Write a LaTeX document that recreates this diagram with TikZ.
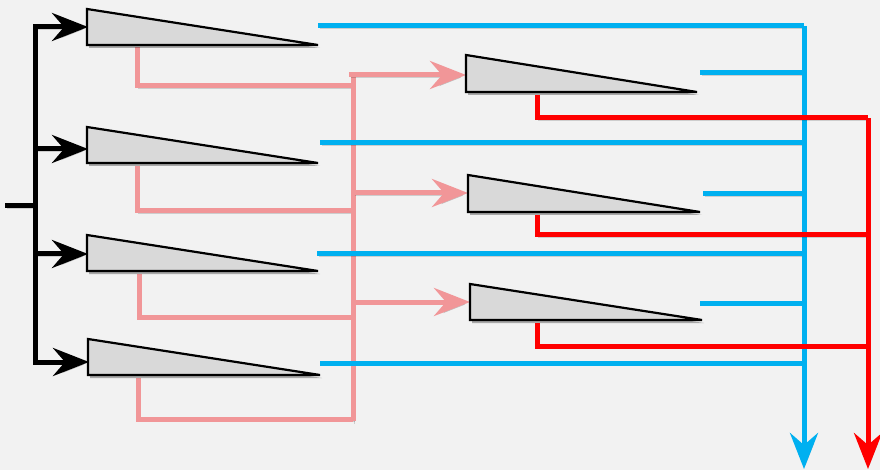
\documentclass[tikz,border=0pt]{standalone}
\usetikzlibrary{arrows.meta}
\definecolor{bg}{RGB}{242,242,242}
\definecolor{wfill}{RGB}{217,217,217}
\definecolor{cblue}{RGB}{0,176,240}
\definecolor{cred}{RGB}{255,0,0}
\definecolor{cpink}{RGB}{241,150,152}
\tikzset{
  shad/.style={preaction={draw=black,opacity=0.15,transform canvas={shift={(1.5pt,-2.5pt)}}}},
  wedge/.style={draw=black,line width=2.2pt,fill=wfill,line join=miter,
     preaction={fill=black,opacity=0.3,transform canvas={shift={(2pt,-3pt)}}}},
  blk/.style={draw=black,line width=5pt,line join=miter,shad},
  tip/.style={-{Stealth[length=36pt,width=28pt,inset=12pt]}},
  pinkline/.style={draw=cpink,line width=5pt,line join=miter,shad},
  blueline/.style={draw=cblue,line width=5pt,shad},
  redline/.style={draw=cred,line width=5pt,line join=miter,shad},
}
\begin{document}
\begin{tikzpicture}[x=1pt,y=-1pt]
\fill[bg] (0,0) rectangle (880,470);
\useasboundingbox (0,0) rectangle (880,470);
% pink
\foreach \n/\px/\py/\hy in {L1/137/47/86, L2/137/166/211, L3/139/274/317, L4/138/378/419}{
  \draw[pinkline] (\px,\py) coordinate (\n-d) -- (\px,\hy) coordinate (\n-c) -- (353,\hy) coordinate (\n-j);
}
\coordinate (ptop) at (353,73);
\coordinate (pbot) at (353,421);
\draw[pinkline] (ptop) -- (pbot);
\coordinate (p1) at (349,75);  \coordinate (R1-in) at (466,75);
\coordinate (p2) at (353,193); \coordinate (R2-in) at (468,193);
\coordinate (p3) at (353,302); \coordinate (R3-in) at (470,302);
\draw[pinkline,tip] (p1) -- (R1-in);
\draw[pinkline,tip] (p2) -- (R2-in);
\draw[pinkline,tip] (p3) -- (R3-in);
% wedges
\foreach \n/\x/\t/\b/\e in {L1/87/9/45/318, L2/87/127/163/318, L3/87/235/271/318, L4/88/339/375/320, R1/466/55/92/697, R2/468/175/212/700, R3/470/284/320/702}{
  \draw[wedge] (\x,\t) coordinate (\n-nw) -- (\e,\b) coordinate (\n-tip) -- (\x,\b) coordinate (\n-sw) -- cycle;
}
% connection points
\coordinate (in) at (5,206);
\coordinate (bj) at (35,206);
\coordinate (b1) at (35,27);  \coordinate (L1-in) at (88,27);
\coordinate (b2) at (35,149); \coordinate (L2-in) at (88,149);
\coordinate (b3) at (35,254); \coordinate (L3-in) at (88,254);
\coordinate (b4) at (35,362); \coordinate (L4-in) at (89,362);
% black input bus
\draw[blk] (in) -- (bj);
\draw[blk,{Stealth[length=36pt,width=28pt,inset=12pt]}-{Stealth[length=36pt,width=28pt,inset=12pt]}] (L1-in) -- (b1) -- (b4) -- (L4-in);
\draw[blk,tip] (b2) -- (L2-in);
\draw[blk,tip] (b3) -- (L3-in);
% blue
\coordinate (btop) at (804,26);
\coordinate (bout) at (804,469);
\draw[blueline] (L1-tip |- btop) -- (btop);
\draw[blueline] (320,143) coordinate (L2-o) -- (804,143);
\draw[blueline] (317,254) coordinate (L3-o) -- (804,254);
\draw[blueline] (320,363) coordinate (L4-o) -- (804,363);
\draw[blueline] (700,73) coordinate (R1-o) -- (804,73);
\draw[blueline] (703,194) coordinate (R2-o) -- (804,194);
\draw[blueline] (700,303) coordinate (R3-o) -- (804,303);
\draw[blueline,tip] (btop) -- (bout);
% red
\coordinate (rout) at (868,469);
\draw[redline] (537,95) coordinate (R1-d) -- (537,118) -- (868,118) coordinate (rtop);
\draw[redline] (537,215) coordinate (R2-d) -- (537,235) -- (868,235);
\draw[redline] (537,323) coordinate (R3-d) -- (537,346) -- (868,346);
\draw[redline,tip] (rtop) -- (rout);
\end{tikzpicture}
\end{document}
